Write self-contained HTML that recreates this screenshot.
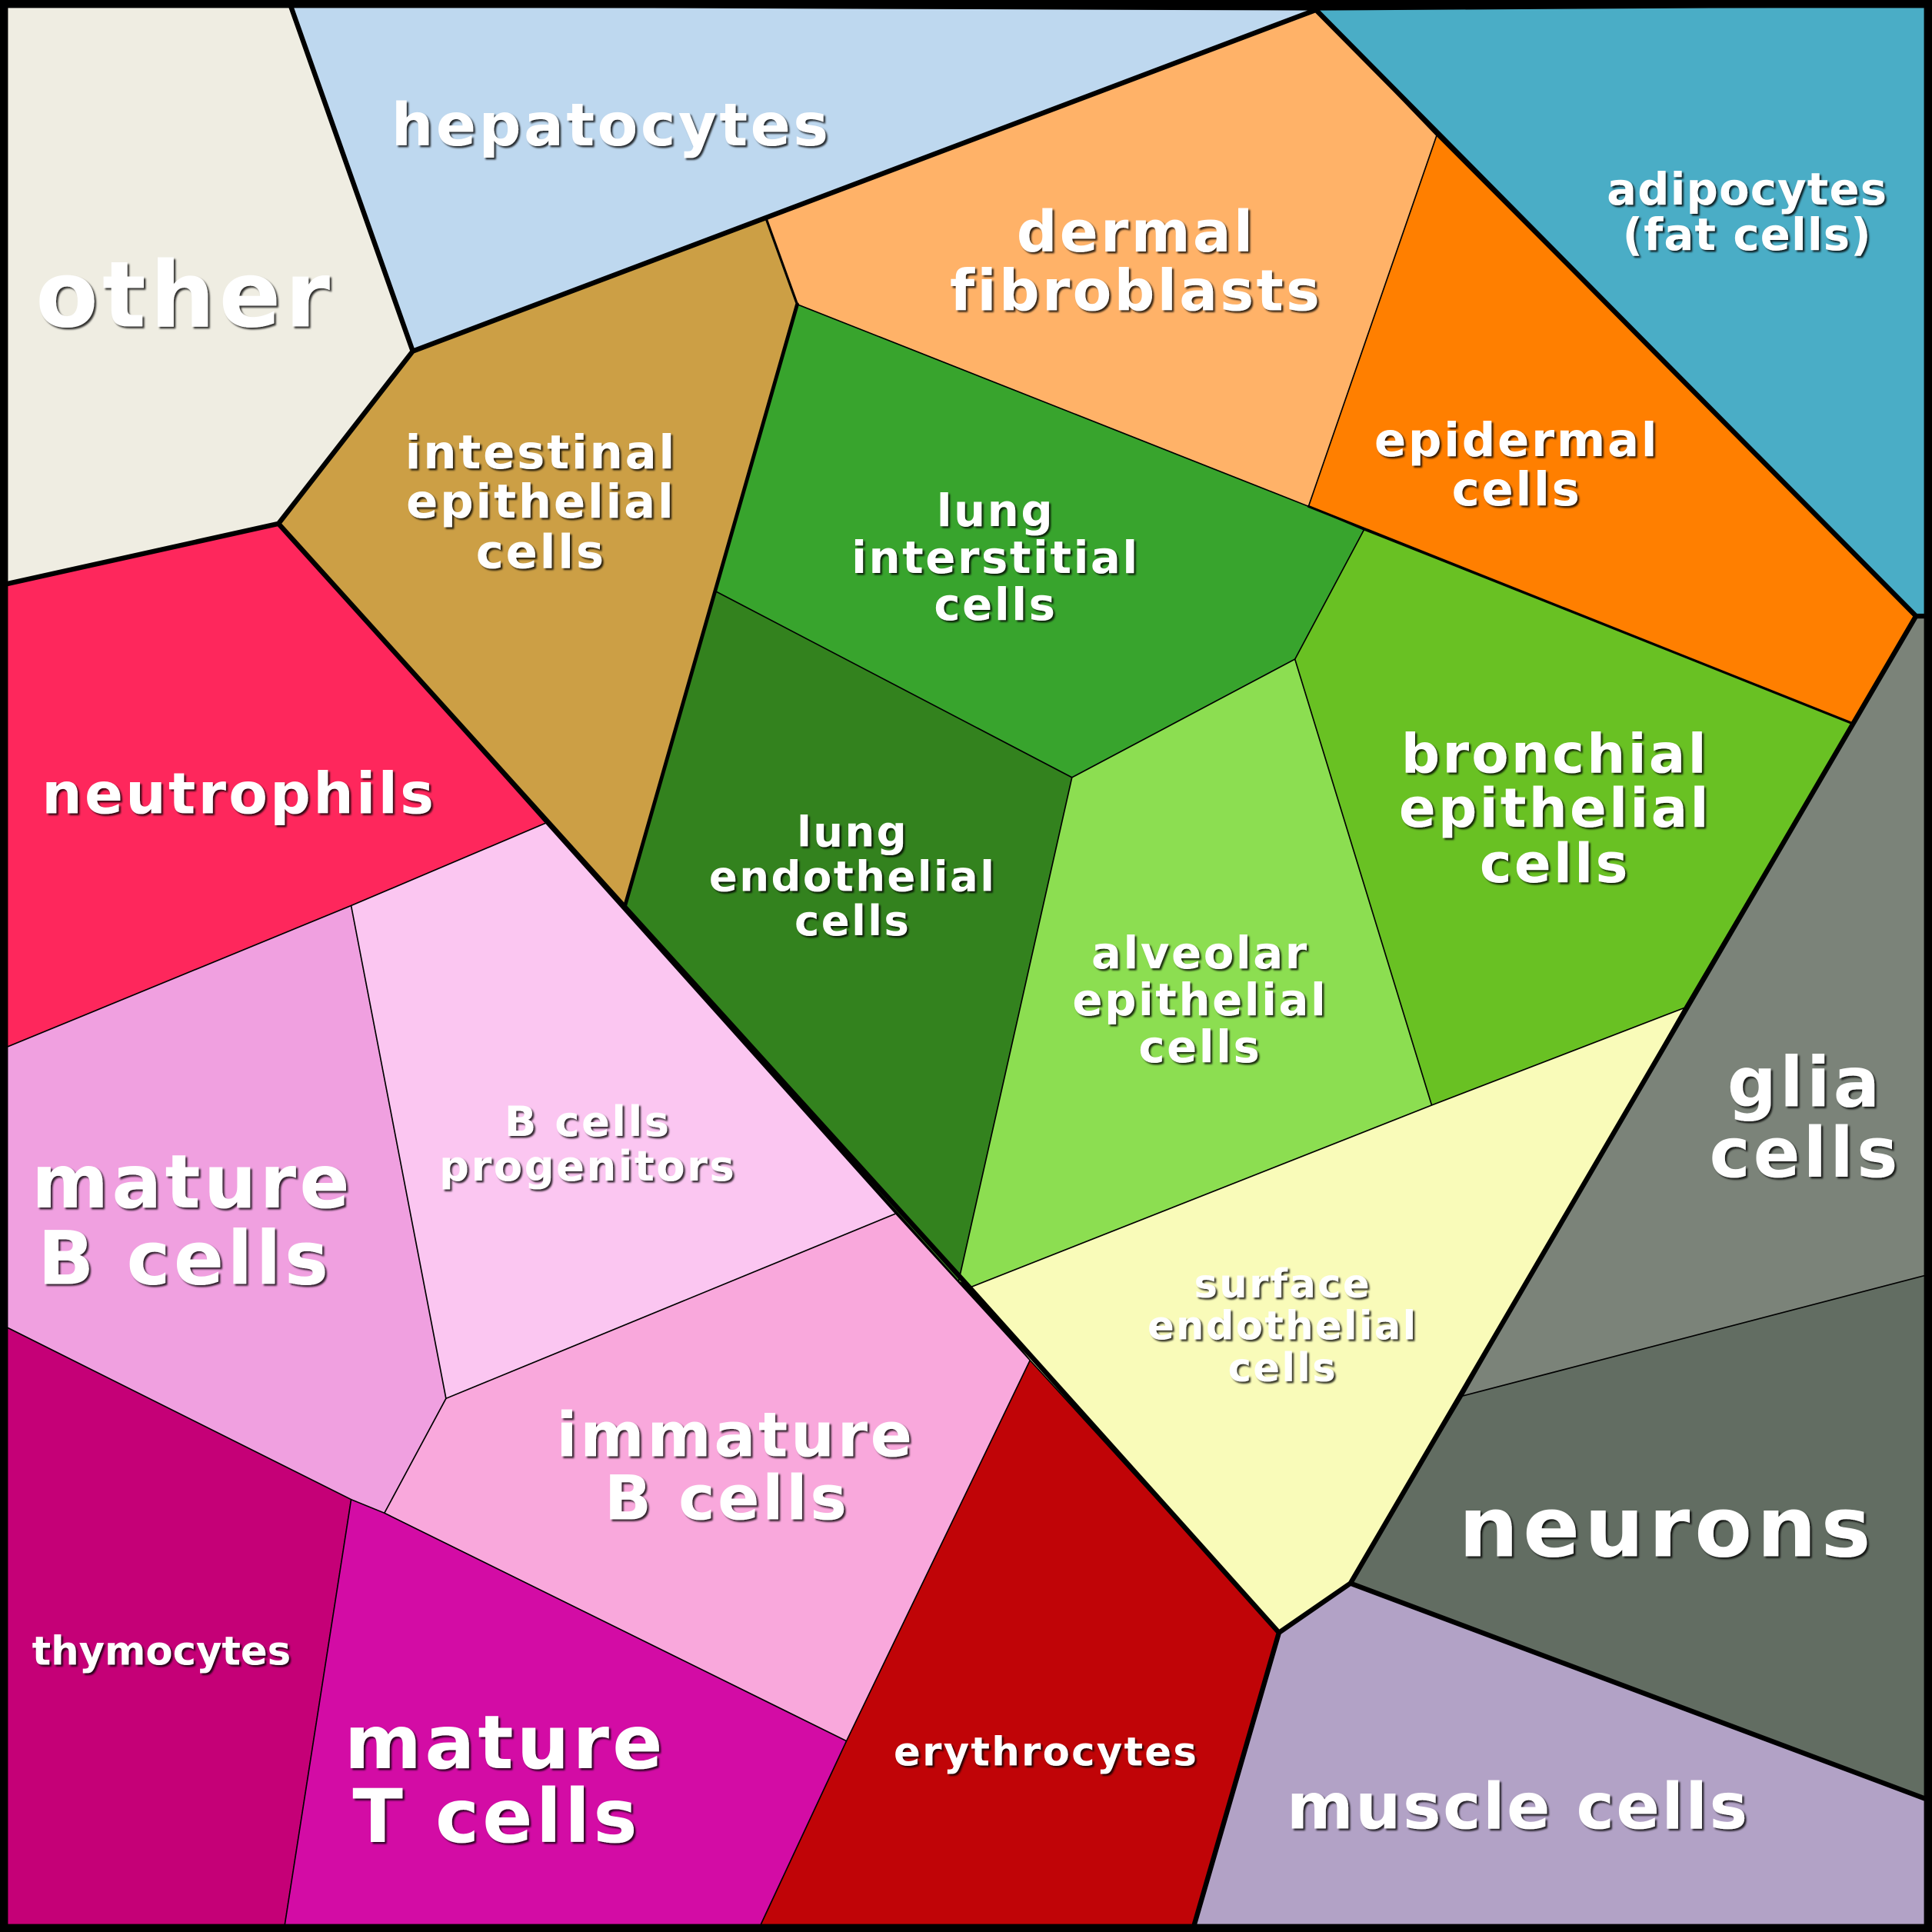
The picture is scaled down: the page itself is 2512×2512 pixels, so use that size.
<!DOCTYPE html>
<html><head><meta charset="utf-8"><style>
html,body{margin:0;padding:0;background:#000}
svg{display:block}
text{font-family:"DejaVu Sans","Liberation Sans",sans-serif;font-weight:bold;fill:#fff;text-anchor:middle;filter:url(#sh);letter-spacing:0.045em}
</style></head><body>
<svg xmlns="http://www.w3.org/2000/svg" width="2512" height="2512" viewBox="0 0 1568 1568">
<defs><filter id="sh" x="-10%" y="-10%" width="120%" height="130%"><feDropShadow dx="1.5" dy="1.5" stdDeviation="0.6" flood-color="#000" flood-opacity="0.8"/></filter></defs>
<rect x="0" y="0" width="1568" height="1568" fill="#000"/>
<g stroke="#000" stroke-width="1" stroke-linejoin="round">
<polygon fill="#efede2" points="5,5 236,5 335,285 226,425 5,474"/>
<polygon fill="#bed8ef" points="236,5 1068,8 622,178 335,285"/>
<polygon fill="#ffb268" points="622,178 1068,8 1166,110 1062,411 647,247"/>
<polygon fill="#4aadc6" points="1068,8 1563,5 1563,500 1555,500 1166,110"/>
<polygon fill="#ff7f00" points="1166,110 1555,500 1503,587 1107,430 1062,411"/>
<polygon fill="#cc9f45" points="335,285 622,178 647,247 581,480 507,736 443,668 226,425"/>
<polygon fill="#38a42d" points="647,247 1062,411 1107,430 1051,535 870,631 581,480"/>
<polygon fill="#33821e" points="581,480 870,631 778,1040 507,736"/>
<polygon fill="#8cde51" points="870,631 1051,535 1162,897 787,1045 778,1040"/>
<polygon fill="#69c123" points="1107,430 1503,587 1367,818 1162,897 1051,535"/>
<polygon fill="#fe275c" points="5,474 226,425 443,668 285,735 5,850"/>
<polygon fill="#f0a0e0" points="5,850 285,735 362,1135 312,1228 285,1217 5,1077"/>
<polygon fill="#fbc6f1" points="285,735 443,668 727,985 362,1135"/>
<polygon fill="#f9a8dc" points="362,1135 727,985 836,1104 687,1413 312,1228"/>
<polygon fill="#c50077" points="5,1077 285,1217 231,1563 5,1563"/>
<polygon fill="#d30ca5" points="285,1217 312,1228 687,1413 617,1563 231,1563"/>
<polygon fill="#c00407" points="836,1104 1038,1325 969,1563 617,1563 687,1413"/>
<polygon fill="#f9fbb9" points="787,1045 1162,897 1367,818 1187,1133 1096,1285 1038,1325 836,1104"/>
<polygon fill="#7b8379" points="1555,500 1563,500 1563,1035 1187,1133 1367,818 1503,587"/>
<polygon fill="#626d62" points="1187,1133 1563,1035 1563,1460 1096,1285"/>
<polygon fill="#b2a2c6" points="1096,1285 1563,1460 1563,1563 969,1563 1038,1325"/>
</g>
<g stroke="#000" stroke-width="4" fill="none" stroke-linejoin="round" stroke-linecap="round">
<polyline points="236,5 335,285 226,425 5,474"/>
<polyline points="335,285 1068,8 1555,500 1563,500"/>
<polyline points="226,425 507,736 787,1045 1038,1325 969,1563"/>
<polyline points="1038,1325 1096,1285 1563,1460"/>
<polyline points="1096,1285 1555,500"/>
<polyline points="647,247 507,736" stroke-width="3"/>
<polyline points="622,178 647,247" stroke-width="2"/>
<polyline points="1062,411 1503,587" stroke-width="2"/>
<rect x="3" y="3" width="1562" height="1562" stroke-width="7"/>
</g>
<text x="150" y="265" font-size="74">other</text>
<text x="496" y="118" font-size="48">hepatocytes</text>
<text x="922" y="204" font-size="46">dermal</text>
<text x="922" y="252" font-size="46">fibroblasts</text>
<text x="1418" y="166" font-size="36" style="letter-spacing:0.02em">adipocytes</text>
<text x="1418" y="203" font-size="36" style="letter-spacing:0.02em">(fat cells)</text>
<text x="1231" y="370" font-size="38">epidermal</text>
<text x="1231" y="410" font-size="38">cells</text>
<text x="439" y="380" font-size="38">intestinal</text>
<text x="439" y="420" font-size="38">epithelial</text>
<text x="439" y="461" font-size="38">cells</text>
<text x="808" y="427" font-size="36">lung</text>
<text x="808" y="465" font-size="36">interstitial</text>
<text x="808" y="503" font-size="36">cells</text>
<text x="692" y="687" font-size="34">lung</text>
<text x="692" y="723" font-size="34">endothelial</text>
<text x="692" y="759" font-size="34">cells</text>
<text x="974" y="786" font-size="36">alveolar</text>
<text x="974" y="824" font-size="36">epithelial</text>
<text x="974" y="862" font-size="36">cells</text>
<text x="1262" y="627" font-size="44">bronchial</text>
<text x="1262" y="671" font-size="44">epithelial</text>
<text x="1262" y="716" font-size="44">cells</text>
<text x="194" y="660" font-size="46">neutrophils</text>
<text x="156" y="980" font-size="60">mature</text>
<text x="150" y="1042" font-size="60">B cells</text>
<text x="477" y="922" font-size="34">B cells</text>
<text x="477" y="958" font-size="34">progenitors</text>
<text x="597" y="1182" font-size="50">immature</text>
<text x="590" y="1233" font-size="50">B cells</text>
<text x="131" y="1351" font-size="32" style="letter-spacing:0">thymocytes</text>
<text x="410" y="1435" font-size="60">mature</text>
<text x="403" y="1495" font-size="60">T cells</text>
<text x="849" y="1433" font-size="32">erythrocytes</text>
<text x="1041" y="1053" font-size="32">surface</text>
<text x="1041" y="1087" font-size="32">endothelial</text>
<text x="1041" y="1121" font-size="32">cells</text>
<text x="1465" y="898" font-size="56">glia</text>
<text x="1465" y="955" font-size="56">cells</text>
<text x="1353" y="1263" font-size="68" style="letter-spacing:0.055em">neurons</text>
<text x="1232" y="1484" font-size="52" style="letter-spacing:0.03em">muscle cells</text>
</svg>
</body></html>
